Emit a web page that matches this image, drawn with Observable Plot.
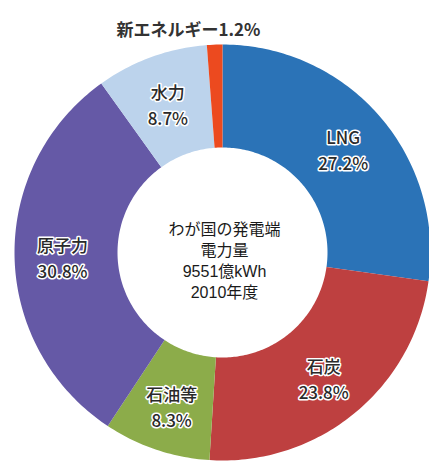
<!DOCTYPE html>
<html><head><meta charset="utf-8">
<script src="https://cdn.jsdelivr.net/npm/d3@7"></script>
<script src="https://cdn.jsdelivr.net/npm/@observablehq/plot@0.6"></script>
<style>
html,body{margin:0;padding:0;background:#fff;}
svg{display:block;}
</style>
</head><body>
<div id="chart"></div>
<script>
const names = ["LNG", "石炭", "石油等", "原子力", "水力", "新エネルギー"];
const values = [27.2, 23.8, 8.3, 30.8, 8.7, 1.2];
const labels = ["27.2%", "23.8%", "8.3%", "30.8%", "8.7%", "1.2%"];
const colors = ["#2b73b7", "#be4040", "#8cac4a", "#6559a6", "#bcd3ec", "#ec4a1f"];
const centerLines = ["わが国の発電端", "電力量", "9551億kWh", "2010年度"];

const W = 429, H = 462;
const cx = 222, cy = 252, R = 208, r0 = 105, rLabel = 160;
const font = "'Noto Sans CJK JP', 'Noto Sans', sans-serif";
const centerFont = "'Liberation Sans', 'Noto Sans CJK JP', sans-serif";

const arcs = d3.pie().sort(null).value(d => d.value)(names.map((n, i) => ({name: n, value: values[i], label: labels[i]})));

const pt = (a, r) => [cx + r * Math.sin(a), cy - r * Math.cos(a)];
const points = [];
for (const a of arcs) {
  const n = Math.max(2, Math.ceil((a.endAngle - a.startAngle) * 180 / Math.PI));
  for (let k = 0; k <= n; k++) {
    const t = a.startAngle + (a.endAngle - a.startAngle) * k / n;
    const [x, y] = pt(t, R);
    points.push({name: a.data.name, x, y});
  }
  for (let k = n; k >= 0; k--) {
    const t = a.startAngle + (a.endAngle - a.startAngle) * k / n;
    const [x, y] = pt(t, r0);
    points.push({name: a.data.name, x, y});
  }
}

const inside = arcs.filter(a => a.data.name !== "新エネルギー").map(a => {
  const m = (a.startAngle + a.endAngle) / 2;
  const [x, y] = pt(m, rLabel);
  return {name: a.data.name, label: a.data.label, x, y: y + 4};
});
const small = arcs.filter(a => a.data.name === "新エネルギー").map(a => ({text: a.data.name + a.data.label, x: cx - 34, y: cy - R - 14}));
const center = centerLines.map((t, i) => ({t, x: cx + 2, y: cy - 23 + i * 21}));

const chart = Plot.plot({
  width: W, height: H,
  margin: 0,
  x: {domain: [0, W], range: [0, W], axis: null},
  y: {domain: [0, H], range: [0, H], axis: null},
  color: {domain: names, range: colors},
  style: {fontFamily: font, background: "#fff"},
  marks: [
    Plot.line(points, {x: "x", y: "y", z: "name", fill: "name", stroke: "none", curve: "linear"}),
    Plot.text(inside, {x: "x", y: "y", text: "name", dy: -13, fontSize: 17, fontWeight: 500, fill: "#2a2a2a", stroke: "white", strokeWidth: 3, fontFamily: font}),
    Plot.text(inside, {x: "x", y: "y", text: "label", dy: 13, fontSize: 17, fontWeight: 500, fill: "#2a2a2a", stroke: "white", strokeWidth: 3, fontFamily: font}),
    Plot.text(small, {x: "x", y: "y", text: "text", fontSize: 17, fontWeight: "bold", fill: "#333", fontFamily: font}),
    Plot.text(center, {x: "x", y: "y", text: "t", fontSize: 16, fill: "#1a1a1a", fontFamily: centerFont})
  ]
});
document.getElementById("chart").appendChild(chart);
</script>
</body></html>
